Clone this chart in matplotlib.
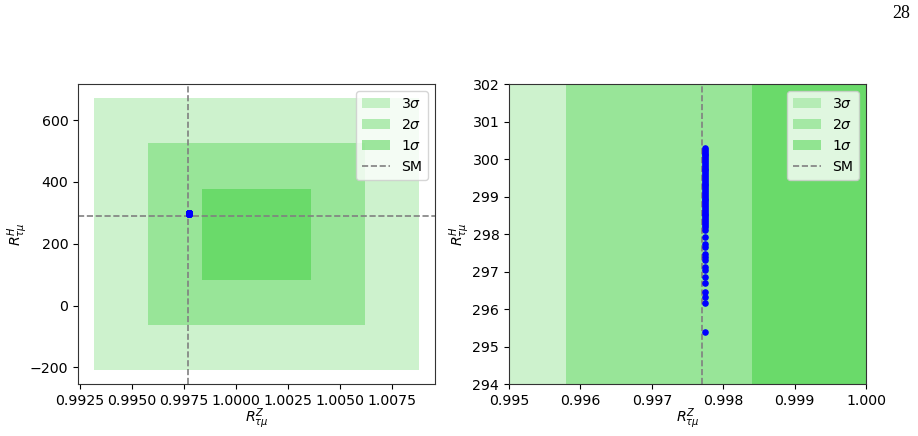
import numpy as np
import matplotlib.pyplot as plt
from matplotlib.patches import Rectangle, Patch
from matplotlib.lines import Line2D

# fitted bands (x: R^Z_tau mu, y: R^H_tau mu)
band_labels = ['3$\\sigma$', '2$\\sigma$', '1$\\sigma$']
band_x = [(0.9932, 1.0088), (0.9958, 1.0062), (0.9984, 1.0036)]
band_y = [(-210, 672), (-63, 525), (84, 378)]
band_alpha = [0.244, 0.34, 0.45]

sm_x = 0.9977
sm_y = 289

# scan points
pts_y = [300.30, 300.25, 300.2, 300.15, 300.1, 300.05, 300.0, 299.95, 299.9, 299.85,
         299.8, 299.75, 299.7, 299.65, 299.6, 299.55, 299.5, 299.45, 299.4, 299.35,
         299.3, 299.25, 299.2, 299.15, 299.1, 299.05, 299.0, 298.95, 298.9, 298.85,
         298.8, 298.75, 298.7, 298.65, 298.6, 298.55, 298.5, 298.45, 298.4, 298.35,
         298.3, 298.25, 298.2, 298.12, 297.93, 297.75, 297.66, 297.48, 297.40, 297.3,
         297.13, 297.04, 296.86, 296.69, 296.46, 296.33, 296.17, 295.38]
pts_x = [0.99775] * 44 + [0.99774] * 14

left_xticks = [0.9925, 0.9950, 0.9975, 1.0000, 1.0025, 1.0050, 1.0075]
left_yticks = [-200, 0, 200, 400, 600]
right_xticks = [0.995, 0.996, 0.997, 0.998, 0.999, 1.000]
right_yticks = [294, 295, 296, 297, 298, 299, 300, 301, 302]

fig = plt.figure(figsize=(9.18, 4.36), dpi=100)
ax1 = fig.add_axes([0.085, 0.119, 0.389, 0.688])
ax2 = fig.add_axes([0.5545, 0.119, 0.389, 0.688])

fs = 10.2
for ax in (ax1, ax2):
    handles = []
    for (x0, x1), (y0, y1), a, lab in zip(band_x, band_y, band_alpha, band_labels):
        ax.add_patch(Rectangle((x0, y0), x1 - x0, y1 - y0, facecolor='limegreen',
                               alpha=a, edgecolor='none', zorder=1))
        handles.append(Patch(facecolor='limegreen', alpha=a, edgecolor='none', label=lab))
    ax.axvline(sm_x, color='gray', ls='--', lw=1.2, zorder=2)
    ax.axhline(sm_y, color='gray', ls='--', lw=1.2, zorder=2)
    handles.append(Line2D([], [], color='gray', ls='--', lw=1.2, label='SM'))
    ax.scatter(pts_x, pts_y, s=14, color='blue', zorder=3)
    ax.legend(handles=handles, loc='upper right', fontsize=fs)
    ax.set_xlabel('$R^Z_{\\tau\\mu}$', fontsize=fs, labelpad=-1)
    ax.set_ylabel('$R^H_{\\tau\\mu}$', fontsize=fs, labelpad=0)
    ax.tick_params(labelsize=fs)
    for sp in ax.spines.values():
        sp.set_color('#333333')

# left: full view with 5% margin around the 3 sigma box
dx = (band_x[0][1] - band_x[0][0]) * 0.05
dy = (band_y[0][1] - band_y[0][0]) * 0.05
ax1.set_xlim(band_x[0][0] - dx, band_x[0][1] + dx)
ax1.set_ylim(band_y[0][0] - dy, band_y[0][1] + dy)
ax1.set_xticks(left_xticks)
ax1.set_yticks(left_yticks)
ax1.set_xticklabels(['%.4f' % t for t in left_xticks])

ax2.set_xlim(0.995, 1.000)
ax2.set_ylim(294, 302)
ax2.set_xticks(right_xticks)
ax2.set_yticks(right_yticks)
ax2.set_xticklabels(['%.3f' % t for t in right_xticks])

fig.text(0.982, 0.97, '28', ha='center', va='center', fontsize=13,
         family='Liberation Serif')

fig.savefig('out.png', dpi=100)
